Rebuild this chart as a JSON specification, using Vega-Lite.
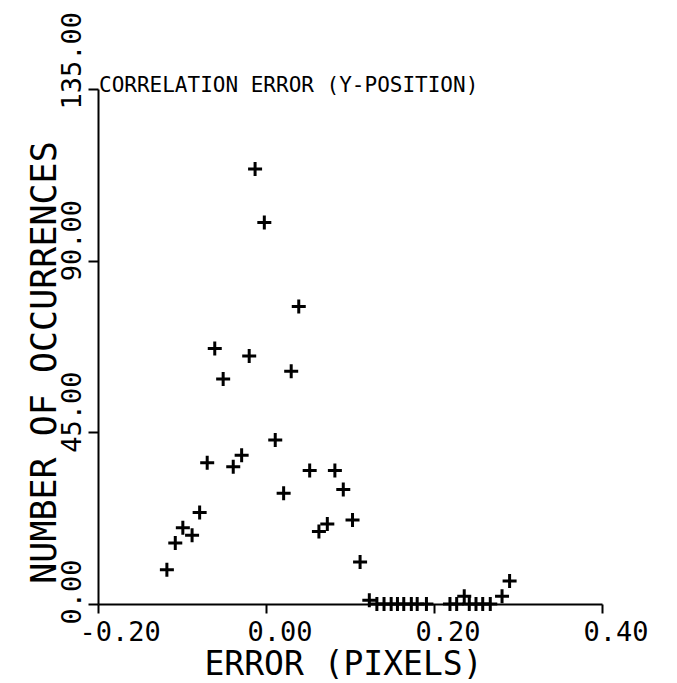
{
  "$schema": "https://vega.github.io/schema/vega-lite/v6.json",
  "width": 504,
  "height": 515,
  "autosize": "none",
  "padding": {"left": 98, "top": 89, "right": 75, "bottom": 79},
  "background": "white",
  "config": {"view": {"stroke": null}, "font": "DejaVu Sans Mono"},
  "data": {
    "values": [
      {"error": -0.118, "count": 9},
      {"error": -0.108, "count": 16},
      {"error": -0.099, "count": 20},
      {"error": -0.088, "count": 18},
      {"error": -0.079, "count": 24},
      {"error": -0.07, "count": 37},
      {"error": -0.061, "count": 67},
      {"error": -0.051, "count": 59},
      {"error": -0.039, "count": 36},
      {"error": -0.029, "count": 39},
      {"error": -0.02, "count": 65},
      {"error": -0.013, "count": 114},
      {"error": -0.002, "count": 100},
      {"error": 0.011, "count": 43},
      {"error": 0.021, "count": 29},
      {"error": 0.03, "count": 61},
      {"error": 0.039, "count": 78},
      {"error": 0.052, "count": 35},
      {"error": 0.063, "count": 19},
      {"error": 0.073, "count": 21},
      {"error": 0.082, "count": 35},
      {"error": 0.092, "count": 30},
      {"error": 0.103, "count": 22},
      {"error": 0.112, "count": 11},
      {"error": 0.123, "count": 1},
      {"error": 0.132, "count": 0},
      {"error": 0.1405, "count": 0},
      {"error": 0.149, "count": 0},
      {"error": 0.1565, "count": 0},
      {"error": 0.164, "count": 0},
      {"error": 0.173, "count": 0},
      {"error": 0.18, "count": 0},
      {"error": 0.191, "count": 0},
      {"error": 0.219, "count": 0},
      {"error": 0.227, "count": 0},
      {"error": 0.236, "count": 2},
      {"error": 0.242, "count": 0},
      {"error": 0.25, "count": 0},
      {"error": 0.258, "count": 0},
      {"error": 0.267, "count": 0},
      {"error": 0.281, "count": 2},
      {"error": 0.29, "count": 6}
    ]
  },
  "layer": [
    {
      "mark": {
        "type": "point",
        "shape": "M-1,0L1,0M0,-1L0,1",
        "size": 196,
        "filled": false,
        "stroke": "black",
        "strokeWidth": 3,
        "opacity": 1
      },
      "encoding": {
        "x": {
          "field": "error",
          "type": "quantitative",
          "scale": {"domain": [-0.2, 0.4], "nice": false, "zero": false},
          "axis": {
            "values": [-0.2, 0, 0.2, 0.4],
            "labelExpr": "datum.value < 0 ? '-' + format(-datum.value, '.2f') : format(datum.value, '.2f')",
            "title": "ERROR (PIXELS)",
            "grid": false,
            "domainColor": "black",
            "domainWidth": 2,
            "tickColor": "black",
            "tickWidth": 2,
            "tickSize": 9,
            "labelFont": "DejaVu Sans Mono",
            "labelFontSize": 27,
            "labelColor": "black",
            "labelAlign": "left",
            "labelBaseline": "alphabetic",
            "labelPadding": 27,
            "labelOffset": -19,
            "labelFlush": false,
            "labelOverlap": false,
            "labelBound": false,
            "titleFont": "DejaVu Sans Mono",
            "titleFontSize": 33,
            "titleFontWeight": "normal",
            "titleColor": "black",
            "titleX": 245,
            "titleY": 70,
            "titleAlign": "center",
            "titleBaseline": "alphabetic"
          }
        },
        "y": {
          "field": "count",
          "type": "quantitative",
          "scale": {"domain": [0, 135], "nice": false, "zero": false},
          "axis": {
            "values": [0, 45, 90, 135],
            "labelExpr": "format(datum.value, '.2f')",
            "title": "NUMBER OF OCCURRENCES",
            "grid": false,
            "domainColor": "black",
            "domainWidth": 2,
            "tickColor": "black",
            "tickWidth": 2,
            "tickSize": 10,
            "labelFont": "DejaVu Sans Mono",
            "labelFontSize": 27,
            "labelColor": "black",
            "labelAngle": 270,
            "labelAlign": "left",
            "labelBaseline": "alphabetic",
            "labelPadding": 8,
            "labelOffset": 20,
            "labelFlush": false,
            "labelOverlap": false,
            "labelBound": false,
            "titleFont": "DejaVu Sans Mono",
            "titleFontSize": 35,
            "titleFontWeight": "normal",
            "titleColor": "black",
            "titleAngle": 270,
            "titleX": -43,
            "titleY": 273,
            "titleAlign": "center",
            "titleBaseline": "alphabetic"
          }
        }
      }
    },
    {
      "data": {"values": [{"label": "CORRELATION ERROR  (Y-POSITION)", "error": -0.2, "count": 135}]},
      "mark": {
        "type": "text",
        "align": "left",
        "baseline": "alphabetic",
        "font": "DejaVu Sans Mono",
        "fontSize": 21,
        "dx": 1,
        "dy": 3,
        "color": "black"
      },
      "encoding": {
        "x": {"field": "error", "type": "quantitative"},
        "y": {"field": "count", "type": "quantitative"},
        "text": {"field": "label"}
      }
    }
  ]
}
